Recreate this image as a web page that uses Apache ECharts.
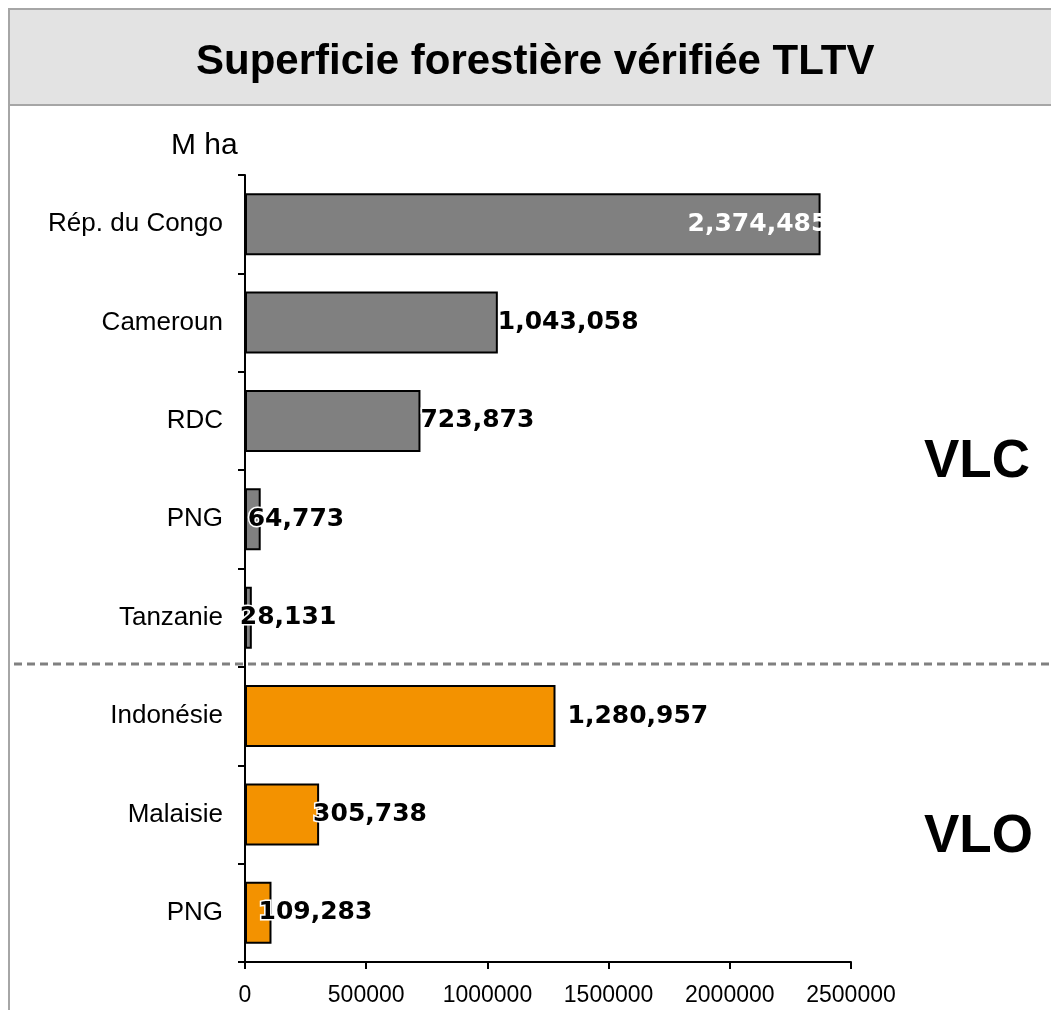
<!DOCTYPE html>
<html lang="fr">
<head>
    <meta charset="UTF-8">
    <title>Superficie forestière vérifiée TLTV</title>
    <style>
        html,body{
            padding: 0;margin: 0;background: #fff;
        }
        #chart{
            width: 1051px;height: 1010px;
        }
    </style>
    <script src="https://cdn.jsdelivr.net/npm/echarts@6/dist/echarts.min.js"></script>
</head>
<body>
<div id="chart"></div>
<script>
    // donnees
    var categories = ['Rép. du Congo', 'Cameroun', 'RDC', 'PNG', 'Tanzanie', 'Indonésie', 'Malaisie', 'PNG'];
    var values = [2374485, 1043058, 723873, 64773, 28131, 1280957, 305738, 109283];
    var groups = ['VLC', 'VLC', 'VLC', 'VLC', 'VLC', 'VLO', 'VLO', 'VLO'];
    var xTicks = [0, 500000, 1000000, 1500000, 2000000, 2500000];

    var groupColor = {VLC: '#808080', VLO: '#F39200'};
    // decalage des etiquettes (deplacees a la main dans l'original)
    var labelShift = [-133, 0, 0, -13, -12, 12, -6, -13];

    var myChart = echarts.init(document.getElementById('chart'));

    var barData = values.map(function (v, i) {
        return {
            value: v,
            itemStyle: {color: groupColor[groups[i]]},
            label: i === 0 ? {offset: [labelShift[i], 0], color: '#fff', textBorderWidth: 0}
                           : {offset: [labelShift[i], 0]}
        };
    });

    var option = {
        animation: false,
        backgroundColor: '#fff',
        title: {
            text: 'Superficie forestière vérifiée TLTV',
            left: 191,
            top: 36,
            textStyle: {fontFamily: 'Liberation Sans', fontSize: 42, fontWeight: 'bold', color: '#000'}
        },
        grid: {left: 245, right: 200, top: 175, bottom: 48},
        xAxis: {
            type: 'value',
            min: xTicks[0],
            max: xTicks[xTicks.length - 1],
            interval: xTicks[1] - xTicks[0],
            splitLine: {show: false},
            axisLine: {show: true, lineStyle: {color: '#000', width: 2}},
            axisTick: {show: true, length: 7, lineStyle: {color: '#000', width: 2}},
            axisLabel: {
                margin: 22, fontFamily: 'Liberation Sans', fontSize: 23, color: '#000',
                formatter: function (v) { return String(v); }
            }
        },
        yAxis: {
            type: 'category',
            inverse: true,
            data: categories,
            axisLine: {lineStyle: {color: '#000', width: 2}},
            axisTick: {show: true, length: 7, lineStyle: {color: '#000', width: 2}},
            axisLabel: {margin: 22, fontFamily: 'Liberation Sans', fontSize: 26, color: '#000'}
        },
        series: [{
            type: 'bar',
            data: barData,
            barCategoryGap: '37%',
            itemStyle: {borderColor: '#000', borderWidth: 2},
            label: {
                show: true,
                position: 'right',
                distance: 0,
                fontFamily: 'DejaVu Sans',
                fontWeight: 'bold',
                fontSize: 25,
                color: '#000',
                textBorderColor: '#fff',
                textBorderWidth: 3,
                formatter: function (p) {
                    return p.value.toLocaleString('en-US');
                }
            }
        }]
    };
    myChart.setOption(option);

    // ligne pointillee entre les deux groupes, cadre et annotations
    var y4 = myChart.convertToPixel({yAxisIndex: 0}, 4);
    var y5 = myChart.convertToPixel({yAxisIndex: 0}, 5);
    var ySep = (y4 + y5) / 2 - 3;

    myChart.setOption({
        graphic: [
            {type: 'rect', z: -10, shape: {x: 9, y: 9, width: 1100, height: 1100},
             style: {fill: '#fff', stroke: '#a6a6a6', lineWidth: 2}},
            {type: 'rect', z: -5, shape: {x: 9, y: 9, width: 1100, height: 96},
             style: {fill: '#e3e3e3', stroke: '#a6a6a6', lineWidth: 2}},
            {type: 'line', z: 50, shape: {x1: 14, y1: ySep, x2: 1051, y2: ySep},
             style: {stroke: '#808080', lineWidth: 3, lineDash: [8, 5]}},
            {type: 'text', left: 171, top: 131,
             style: {text: 'M ha', fontFamily: 'Liberation Sans', fontSize: 30, fill: '#000'}},
            {type: 'text', left: 924, top: 436,
             style: {text: 'VLC', fontFamily: 'Liberation Sans', fontSize: 53, fontWeight: 'bold', fill: '#000'}},
            {type: 'text', left: 924, top: 811,
             style: {text: 'VLO', fontFamily: 'Liberation Sans', fontSize: 53, fontWeight: 'bold', fill: '#000'}}
        ]
    });
</script>
</body>
</html>
